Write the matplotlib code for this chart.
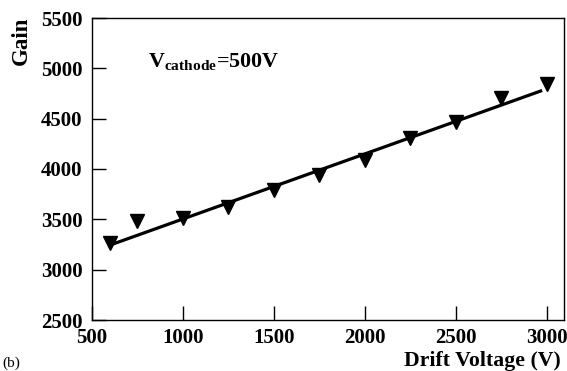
import numpy as np
import matplotlib
matplotlib.use('Agg')
import matplotlib.pyplot as plt

plt.rcParams['font.family'] = ['Liberation Serif', 'DejaVu Serif']
plt.rcParams['font.weight'] = 'bold'
plt.rcParams['mathtext.fontset'] = 'custom'
plt.rcParams['mathtext.rm'] = 'Liberation Serif:bold'
plt.rcParams['mathtext.bf'] = 'Liberation Serif:bold'

# data
drift_v = [600, 750, 1000, 1250, 1500, 1750, 2000, 2250, 2500, 2750, 3000]
gain = [3265, 3485, 3510, 3625, 3790, 3940, 4090, 4310, 4470, 4710, 4845]
fit_v = [600, 2975]
fit_gain = [3245, 4780]

xticks = [500, 1000, 1500, 2000, 2500, 3000]
yticks = [2500, 3000, 3500, 4000, 4500, 5000, 5500]

fig = plt.figure(figsize=(5.67, 3.71), dpi=100)
ax = fig.add_axes([92/567, 1-320/371, (564-92)/567, (320-18)/371])

ax.plot(fit_v, fit_gain, color='black', lw=2.3, solid_capstyle='butt')
ax.plot(drift_v, gain, linestyle='none', marker='v', color='black', markersize=9.5)

ax.set_xlim(500, 3095)
ax.set_ylim(2500, 5500)
ax.set_xticks(xticks)
ax.set_yticks(yticks)
ax.tick_params(direction='in', length=10, width=1, labelsize=15)
ax.tick_params(axis='y', pad=7)
ax.tick_params(axis='x', pad=6)
for sp in ax.spines.values():
    sp.set_linewidth(1)

ax.text(0.118, 0.835, r'V$_{\mathbf{cathode}}$=500V', transform=ax.transAxes,
        fontsize=15.8, fontweight='bold')

fig.text(21/567, 1-17/371, 'Gain', rotation=90, ha='center', va='top',
         fontsize=16.5, fontweight='bold')
fig.text(561/567, 1-361/371, 'Drift Voltage (V)', ha='right', va='center',
         fontsize=15.7, fontweight='bold')
fig.text(2/567, 1-370/371, '(b)', ha='left', va='bottom', fontsize=11,
         fontweight='normal')

fig.savefig('out.png', dpi=100)
